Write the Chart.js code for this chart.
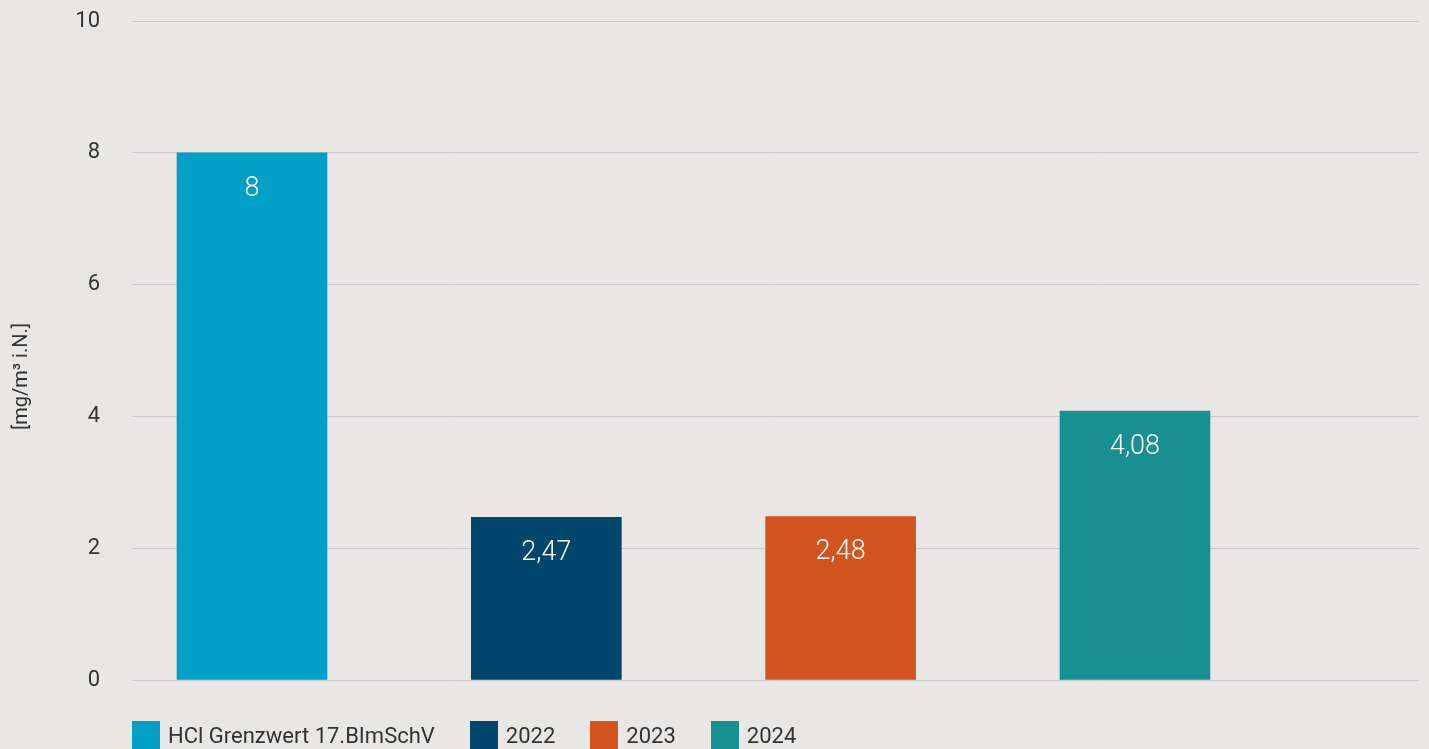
<!DOCTYPE html>
<html>
<head>
<meta charset="utf-8">
<script src="https://cdn.jsdelivr.net/npm/chart.js@4/dist/chart.umd.min.js"></script>
<style>
  body { margin: 0; background: #e8e7e5; }
  #wrap { position: relative; width: 1429px; height: 749px; }
  #legend { position: absolute; left: 132px; top: 721px; display: flex; align-items: center;
    font-family: Roboto, sans-serif; font-size: 22px; color: #333; }
  .item { display: flex; align-items: center; margin-right: 35px; }
  .box { width: 28px; height: 28px; margin-right: 8px; }
</style>
</head>
<body>
<div id="wrap">
  <canvas id="chart" width="1429" height="749"></canvas>
  <div id="legend"></div>
</div>
<script>
const categories = ["HCl Grenzwert 17.BImSchV", "2022", "2023", "2024"];
const values = [8, 2.47, 2.48, 4.08];
const colors = ["#009fc6", "#00466d", "#d2541e", "#189092"];
const yTicks = [0, 2, 4, 6, 8, 10];
const yTitle = "[mg/m³ i.N.]";
const FONT = "Roboto";

const legendEl = document.getElementById("legend");
categories.forEach((name, i) => {
  const item = document.createElement("div");
  item.className = "item";
  item.innerHTML = `<span class="box" style="background:${colors[i]}"></span><span>${name}</span>`;
  legendEl.appendChild(item);
});

// value labels inside the top of each bar
const valueLabels = {
  id: "valueLabels",
  afterDatasetsDraw(chart) {
    const ctx = chart.ctx;
    const meta = chart.getDatasetMeta(0);
    ctx.save();
    ctx.fillStyle = "#ffffff";
    ctx.font = `300 27px ${FONT}`;
    ctx.textAlign = "center";
    ctx.textBaseline = "middle";
    meta.data.forEach((bar, i) => {
      ctx.fillText(String(values[i]).replace(".", ","), bar.x, bar.y + 36);
    });
    ctx.restore();
  },
};

const axisTitle = {
  id: "axisTitle",
  afterDraw(chart) {
    const ctx = chart.ctx;
    const area = chart.chartArea;
    ctx.save();
    ctx.translate(22, (area.top + area.bottom) / 2 + 26);
    ctx.rotate(-Math.PI / 2);
    ctx.fillStyle = "#333";
    ctx.font = `20px ${FONT}`;
    ctx.textAlign = "center";
    ctx.textBaseline = "middle";
    ctx.fillText(yTitle, 0, 0);
    ctx.restore();
  },
};

new Chart(document.getElementById("chart").getContext("2d"), {
  type: "bar",
  data: {
    datasets: [
      {
        data: values.map((v, i) => ({ x: i, y: v })),
        backgroundColor: colors,
        barThickness: 150,
        borderWidth: 0,
      },
    ],
  },
  options: {
    responsive: false,
    animation: false,
    layout: { padding: { top: 21, right: 10, bottom: 69, left: 0 } },
    plugins: { legend: { display: false }, tooltip: { enabled: false } },
    scales: {
      x: { type: "linear", offset: false, min: -0.4077, max: 3.965, display: false },
      y: {
        min: 0,
        max: 10,
        afterFit(scale) {
          scale.width = 132;
          scale.paddingTop = 0;
          scale.paddingBottom = 0;
        },
        afterBuildTicks(scale) { scale.ticks = yTicks.map((v) => ({ value: v })); },
        border: { display: false },
        grid: { color: "#c9c8cc", lineWidth: 1, drawTicks: false },
        ticks: { padding: 32, color: "#333", font: { family: FONT, size: 22 } },
      },
    },
  },
  plugins: [valueLabels, axisTitle],
});
</script>
</body>
</html>
